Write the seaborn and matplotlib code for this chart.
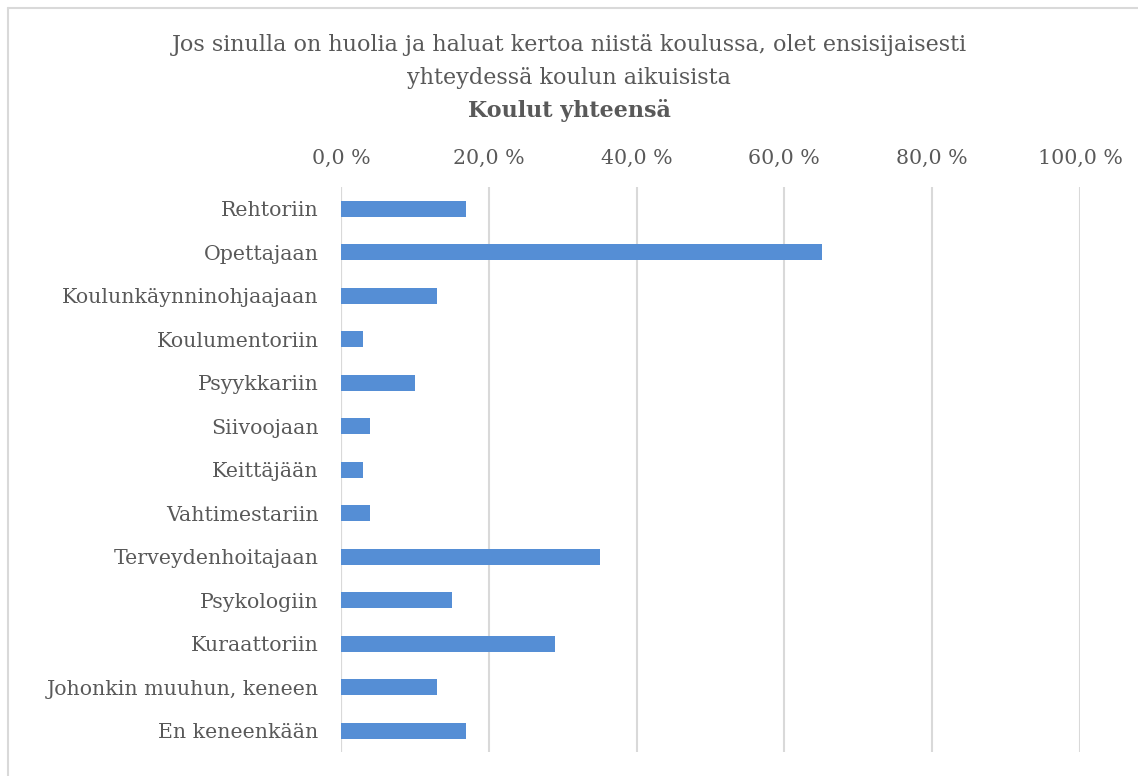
import matplotlib
matplotlib.use("Agg")
import matplotlib.pyplot as plt
import pandas as pd
import seaborn as sns
from matplotlib.ticker import FuncFormatter

categories = [
    "Rehtoriin",
    "Opettajaan",
    "Koulunkäynninohjaajaan",
    "Koulumentoriin",
    "Psyykkariin",
    "Siivoojaan",
    "Keittäjään",
    "Vahtimestariin",
    "Terveydenhoitajaan",
    "Psykologiin",
    "Kuraattoriin",
    "Johonkin muuhun, keneen",
    "En keneenkään",
]
values = [16.9, 65.1, 13.0, 3.0, 10.0, 3.9, 3.0, 3.9, 35.0, 15.0, 29.0, 13.0, 16.9]

title_lines = [
    "Jos sinulla on huolia ja haluat kertoa niistä koulussa, olet ensisijaisesti",
    "yhteydessä koulun aikuisista",
]
subtitle = "Koulut yhteensä"

df = pd.DataFrame({"kohde": categories, "osuus": values})

sns.set_theme(style="white")
plt.rcParams["font.family"] = ["DejaVu Serif"]

text_color = "#595959"
grid_color = "#d9d9d9"
bar_color = "#558ed5"

fig = plt.figure(figsize=(11.38, 7.76), dpi=100)
ax = fig.add_axes([0.2996, 0.0303, 0.6494, 0.7287])

sns.barplot(data=df, x="osuus", y="kohde", color=bar_color, width=0.37,
            saturation=1, linewidth=0, ax=ax)

ax.set_xlim(0, 100)
ax.set_xticks([0, 20, 40, 60, 80, 100])
ax.xaxis.set_major_formatter(FuncFormatter(lambda v, _: f"{v:.1f} %".replace(".", ",")))
ax.xaxis.tick_top()
ax.tick_params(axis="x", length=0, pad=14, labelsize=14.8, colors=text_color)
ax.tick_params(axis="y", length=0, pad=16, labelsize=14.8, colors=text_color)
ax.set_xlabel("")
ax.set_ylabel("")
ax.grid(axis="x", color=grid_color, linewidth=1.5)
ax.set_axisbelow(True)
for s in ax.spines.values():
    s.set_visible(False)
ax.axvline(0, color=grid_color, linewidth=1.5, zorder=0)

fig.text(0.5, 0.942, title_lines[0], ha="center", va="center", fontsize=16, color=text_color)
fig.text(0.5, 0.899, title_lines[1], ha="center", va="center", fontsize=16, color=text_color)
fig.text(0.5, 0.858, subtitle, ha="center", va="center", fontsize=16,
         fontweight="bold", color=text_color)

# chart frame (left and top edges visible)
fig.add_artist(plt.Line2D([8 / 1138, 8 / 1138], [0, 1 - 8 / 776], transform=fig.transFigure,
                          color=grid_color, linewidth=1.5))
fig.add_artist(plt.Line2D([8 / 1138, 1], [1 - 8 / 776, 1 - 8 / 776], transform=fig.transFigure,
                          color=grid_color, linewidth=1.5))

fig.savefig("out.png", dpi=100)
